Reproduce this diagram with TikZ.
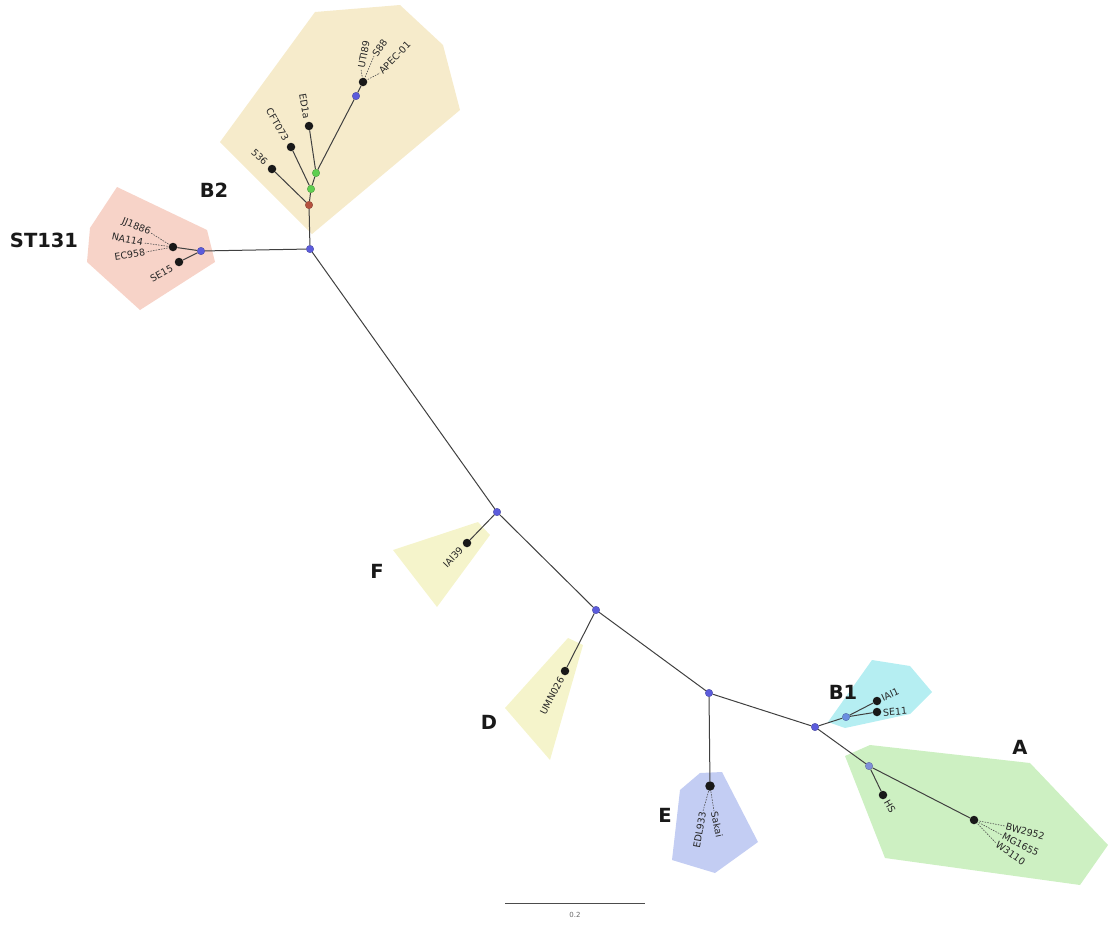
\documentclass[tikz,border=0pt]{standalone}
\usepackage{fontspec}
\setmainfont{DejaVu Sans}
\usetikzlibrary{backgrounds}
\definecolor{nodeblue}{HTML}{5C5CDC}
\definecolor{nodeblueB}{HTML}{6A8EE0}
\definecolor{nodeblueA}{HTML}{7F8FD8}
\definecolor{nodered}{HTML}{B5523F}
\definecolor{nodegreen}{HTML}{5FCF4F}
\definecolor{polyB}{HTML}{F6EBCB}
\definecolor{polyST}{HTML}{F7D3C8}
\definecolor{polyFD}{HTML}{F5F4CB}
\definecolor{polyE}{HTML}{C3CDF3}
\definecolor{polyBone}{HTML}{B5EEF2}
\definecolor{polyA}{HTML}{CDF0C2}
\tikzset{
  edge/.style={draw=black!75, line width=1pt},
  lead/.style={draw=black!70, dash pattern=on 1.5pt off 1.2pt, line width=0.6pt},
  inode/.style={circle, fill=#1, draw=#1!70!black, line width=0.3pt, inner sep=0pt, minimum size=7.5pt},
  leafdot/.style={circle, fill=black!90, inner sep=0pt, minimum size=8.5pt},
  lab/.style={font=\fontsize{9.5}{9.5}\selectfont, inner sep=0.8pt, text=black!85},
  clade/.style={font=\fontsize{19.5}{19.5}\selectfont\bfseries, text=black!90},
  hull/.style={fill=#1, draw=none}
}
\begin{document}
\begin{tikzpicture}[x=1pt, y=-1pt]
\useasboundingbox (0,0) rectangle (1111,924);
% internal nodes
\node[inode=nodeblue] (r) at (310,249) {};
\node[inode=nodeblue] (st) at (201,251) {};
\node[inode=nodered] (b2r) at (309,205) {};
\node[inode=nodegreen] (b2g1) at (311,189) {};
\node[inode=nodegreen] (b2g2) at (316,173) {};
\node[inode=nodeblue] (b2p) at (356,96) {};
\node[inode=nodeblue] (f) at (497,512) {};
\node[inode=nodeblue] (d) at (596,610) {};
\node[inode=nodeblue] (e) at (709,693) {};
\node[inode=nodeblue] (ba) at (815,727) {};
\node[inode=nodeblueB] (b1) at (846,717) {};
\node[inode=nodeblueA] (a) at (869,766) {};
% leaves
\node[leafdot] (stl) at (173,247) {};
\node[leafdot] (se15) at (179,262) {};
\node[leafdot] (uti) at (363,82) {};
\node[leafdot] (n536) at (272,169) {};
\node[leafdot] (cft) at (291,147) {};
\node[leafdot] (ed1a) at (309,126) {};
\node[leafdot] (iai39) at (467,543) {};
\node[leafdot] (umn) at (565,671) {};
\node[leafdot, minimum size=9.5pt] (eleaf) at (710,786) {};
\node[leafdot] (iai1) at (877,701) {};
\node[leafdot] (se11) at (877,712) {};
\node[leafdot] (hs) at (883,795) {};
\node[leafdot] (k12) at (974,820) {};
% leaf labels
\node[lab, anchor=east, rotate=-22] (ljj) at (151,233) {JJ1886};
\node[lab, anchor=east, rotate=-12] (lna) at (144,243) {NA114};
\node[lab, anchor=east, rotate=9] (lec) at (146,252) {EC958};
\node[lab, anchor=east, rotate=29] (lse15) at (173,267) {SE15};
\node[lab, anchor=east, rotate=-43] (l536) at (267,164) {536};
\node[lab, anchor=east, rotate=-60] (lcft) at (287,141) {CFT073};
\node[lab, anchor=east, rotate=-80] (led) at (307,120) {ED1a};
\node[lab, anchor=west, rotate=79] (luti) at (361,69) {UTI89};
\node[lab, anchor=west, rotate=55] (ls88) at (374,56) {S88};
\node[lab, anchor=west, rotate=46] (lapec) at (380,73) {APEC-01};
\node[lab, anchor=east, rotate=47] (liai39) at (462,548) {IAI39};
\node[lab, anchor=east, rotate=62] (lumn) at (562,677) {UMN026};
\node[lab, anchor=east, rotate=80] (ledl) at (703,811) {EDL933};
\node[lab, anchor=west, rotate=-78] (lsak) at (714,811) {Sakai};
\node[lab, anchor=west, rotate=25] (liai1) at (881,699) {IAI1};
\node[lab, anchor=west, rotate=5] (lse11) at (882,713) {SE11};
\node[lab, anchor=west, rotate=-60] (lhs) at (886,800) {HS};
\node[lab, anchor=west, rotate=-15] (lbw) at (1005,826) {BW2952};
\node[lab, anchor=west, rotate=-27] (lmg) at (1002,835) {MG1655};
\node[lab, anchor=west, rotate=-35] (lw) at (996,843) {W3110};
% clade labels
\node[clade] (cST) at (44,240) {ST131};
\node[clade] (cB2) at (214,190) {B2};
\node[clade] (cF) at (377,571) {F};
\node[clade] (cD) at (489,722) {D};
\node[clade] (cE) at (665,815) {E};
\node[clade] (cB1) at (843,692) {B1};
\node[clade] (cA) at (1020,747) {A};
% scale bar
\coordinate (sb1) at (505,903);
\coordinate (sb2) at (645,903);
\draw[black!70, line width=0.8pt] (sb1) -- (sb2);
\node[font=\fontsize{7}{7}\selectfont, text=black!60] (sbl) at (575,915) {0.2};
\begin{scope}[on background layer]
  % hulls
  \fill[hull=polyB] (220,142) -- (315,12) -- (400,5) -- (443,45) -- (460,110) -- (312,234) -- cycle;
  \fill[hull=polyST] (117,187) -- (207,230) -- (215,262) -- (140,310) -- (87,262) -- (90,228) -- cycle;
  \fill[hull=polyFD] (393,550) -- (478,522) -- (490,535) -- (437,607) -- cycle;
  \fill[hull=polyFD] (568,638) -- (583,645) -- (550,760) -- (505,708) -- cycle;
  \fill[hull=polyE] (700,773) -- (722,772) -- (758,842) -- (715,873) -- (672,860) -- (680,790) -- cycle;
  \fill[hull=polyBone] (828,722) -- (872,660) -- (910,666) -- (932,692) -- (910,714) -- (845,728) -- cycle;
  \fill[hull=polyA] (845,756) -- (870,745) -- (1030,763) -- (1108,845) -- (1080,885) -- (885,858) -- cycle;
  % edges
  \draw[edge] (r) -- (st);
  \draw[edge] (st) -- (stl);
  \draw[edge] (st) -- (se15);
  \draw[edge] (r) -- (b2r);
  \draw[edge] (b2r) -- (n536);
  \draw[edge] (b2r) -- (b2g1);
  \draw[edge] (b2g1) -- (cft);
  \draw[edge] (b2g1) -- (b2g2);
  \draw[edge] (b2g2) -- (ed1a);
  \draw[edge] (b2g2) -- (b2p);
  \draw[edge] (b2p) -- (uti);
  \draw[edge] (r) -- (f);
  \draw[edge] (f) -- (iai39);
  \draw[edge] (f) -- (d);
  \draw[edge] (d) -- (umn);
  \draw[edge] (d) -- (e);
  \draw[edge] (e) -- (eleaf);
  \draw[edge] (e) -- (ba);
  \draw[edge] (ba) -- (b1);
  \draw[edge] (b1) -- (iai1);
  \draw[edge] (b1) -- (se11);
  \draw[edge] (ba) -- (a);
  \draw[edge] (a) -- (hs);
  \draw[edge] (a) -- (k12);
  % leaders
  \draw[lead] (stl.center) -- (ljj.east);
  \draw[lead] (stl.center) -- (lna.east);
  \draw[lead] (stl.center) -- (lec.east);
  \draw[lead] (uti.center) -- (luti.west);
  \draw[lead] (uti.center) -- (ls88.west);
  \draw[lead] (uti.center) -- (lapec.west);
  \draw[lead] (eleaf.center) -- (ledl.east);
  \draw[lead] (eleaf.center) -- (lsak.west);
  \draw[lead] (k12.center) -- (lbw.west);
  \draw[lead] (k12.center) -- (lmg.west);
  \draw[lead] (k12.center) -- (lw.west);
\end{scope}
\end{tikzpicture}
\end{document}
